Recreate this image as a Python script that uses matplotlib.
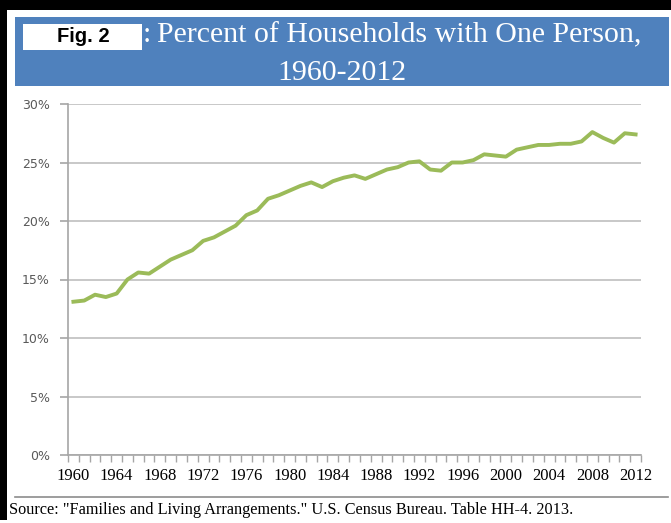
import matplotlib
matplotlib.use("Agg")
import matplotlib.pyplot as plt
from matplotlib.patches import Rectangle
from matplotlib.lines import Line2D

years = list(range(1960, 2013))
one_person_pct = [13.1, 13.2, 13.7, 13.5, 13.8, 15.0, 15.6, 15.5, 16.1, 16.7,
                  17.1, 17.5, 18.3, 18.6, 19.1, 19.6, 20.5, 20.9, 21.9, 22.2,
                  22.6, 23.0, 23.3, 22.9, 23.4, 23.7, 23.9, 23.6, 24.0, 24.4,
                  24.6, 25.0, 25.1, 24.4, 24.3, 25.0, 25.0, 25.2, 25.7, 25.6,
                  25.5, 26.1, 26.3, 26.5, 26.5, 26.6, 26.6, 26.8, 27.6, 27.1,
                  26.7, 27.5, 27.4]
label_years = list(range(1960, 2013, 4))
y_ticks = [0, 5, 10, 15, 20, 25, 30]

title_line1 = "Percent of Households with One Person,"
title_line2 = "1960-2012"
source_text = 'Source: "Families and Living Arrangements." U.S. Census Bureau. Table HH-4. 2013.'

W, H = 671, 523


def fx(px):
    return px / W


def fy(py):
    return 1 - py / H


fig = plt.figure(figsize=(W / 100, H / 100), dpi=100)
fig.patch.set_facecolor("white")

# dark frame of the screenshot
fig.add_artist(Rectangle((0, fy(10)), 1, 10 / H, transform=fig.transFigure,
                         facecolor="black", edgecolor="none"))
fig.add_artist(Rectangle((0, fy(520)), fx(7), 510 / H, transform=fig.transFigure,
                         facecolor="black", edgecolor="none"))

# blue title banner
fig.add_artist(Rectangle((fx(15), fy(86)), fx(654), 69 / H, transform=fig.transFigure,
                         facecolor="#4f81bd", edgecolor="none"))
fig.text(fx(143), fy(42), ":", color="white", fontsize=21.5,
         family="Liberation Serif", ha="left", va="baseline")
fig.text(fx(157), fy(42), title_line1, color="white", fontsize=21.5,
         family="Liberation Serif", ha="left", va="baseline")
fig.text(fx(342), fy(80), title_line2, color="white", fontsize=21.5,
         family="Liberation Serif", ha="center", va="baseline")

# white label box over the figure number
fig.add_artist(Rectangle((fx(23), fy(50)), fx(119), 26 / H, transform=fig.transFigure,
                         facecolor="white", edgecolor="none", zorder=5))
fig.text(fx(83), fy(37), "Fig. 2", color="black", fontsize=14.5, fontweight="bold",
         family="Liberation Sans", ha="center", va="center", zorder=6)

# chart
ax = fig.add_axes([fx(68), fy(455), fx(641) - fx(68), (455 - 104) / H])
ax.plot(years, one_person_pct, color="#9bbb59", linewidth=2.8, solid_joinstyle="round")

ax.set_xlim(1959.5, 2012.5)
ax.set_ylim(0, 30)
ax.set_yticks(y_ticks)
ax.set_yticklabels([f"{t}%" for t in y_ticks], color="#595959", fontsize=9,
                   family="DejaVu Sans")
ax.set_xticks(label_years)
ax.set_xticklabels([str(y) for y in label_years], fontsize=12, family="Liberation Serif")
ax.set_xticks([y - 0.5 for y in range(1960, 2014)], minor=True)
ax.tick_params(axis="x", which="major", length=0, pad=9)
ax.tick_params(axis="x", which="minor", length=5, color="#a6a6a6", width=1)
ax.tick_params(axis="y", length=6, color="#a6a6a6", width=1.2, pad=7)
ax.grid(axis="y", color="#c4c4c4", linewidth=1.3)
ax.set_axisbelow(True)
for side in ["top", "right"]:
    ax.spines[side].set_visible(False)
for side in ["left", "bottom"]:
    ax.spines[side].set_color("#a6a6a6")
    ax.spines[side].set_linewidth(1.2)

# separator and source
fig.add_artist(Line2D([fx(15), fx(668)], [fy(497), fy(497)], transform=fig.transFigure,
                      color="#8c8c8c", linewidth=1.2))
fig.text(fx(9), fy(510), source_text, fontsize=11.7, family="Liberation Serif",
         ha="left", va="center")

fig.savefig("out.png", dpi=100)
